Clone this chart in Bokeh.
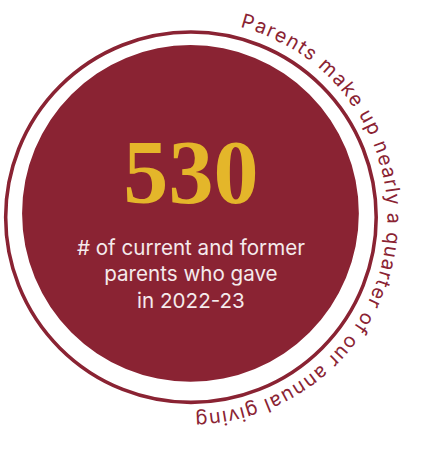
import math
from bokeh.plotting import figure
from bokeh.models import Range1d, ColumnDataSource
from bokeh.core.properties import value
from bokeh.embed import file_html
from bokeh.resources import INLINE

# ---- content ----
big_number = "530"
caption_lines = ["# of current and former", "parents who gave", "in 2022-23"]
arc_text = "Parents make up nearly a quarter of our annual giving"

MAROON = "#8A2333"
GOLD = "#E4B62A"
CAPTION = "#F5EAEC"

# ---- canvas: data units = reference pixels, uniformly scaled to fit ----
W, H = 409, 436
s = W / 436.0
x0, y0 = 0.0, -3.0
p = figure(width=W, height=H, frame_width=W, frame_height=H,
           x_range=Range1d(x0, x0 + W / s),
           y_range=Range1d(y0 + H / s, y0),
           x_axis_type=None, y_axis_type=None, title=None,
           output_backend="svg", toolbar_location=None, min_border=0)
p.grid.visible = False
p.outline_line_color = None
p.background_fill_color = "white"
p.border_fill_color = "white"

# filled disc
p.circle(x=[202.5], y=[224.0], radius=179.5, fill_color=MAROON, line_color=None)
# outer ring
ring_cx, ring_cy, ring_r = 203.0, 228.0, 197.5
p.circle(x=[ring_cx], y=[ring_cy], radius=ring_r, fill_color=None,
         line_color=MAROON, line_width=3.8 * s)

# big number
p.text(x=[203], y=[180.5], text=[big_number], text_font=value("Liberation Serif"),
       text_font_style="bold", text_font_size=f"{96 * s:.1f}px",
       text_align="center", text_baseline="alphabetic", text_color=GOLD)

# caption
p.text(x=[203, 203, 203], y=[260, 288.5, 317], text=caption_lines,
       text_font=value("Inter"), text_font_size=f"{22 * s:.1f}px",
       text_align="center", text_baseline="alphabetic", text_color=CAPTION)

# curved text around the ring
adv = {'P': 0.63, 'a': 0.55, 'r': 0.37, 'e': 0.56, 'n': 0.57, 't': 0.35,
       's': 0.50, ' ': 0.28, 'm': 0.86, 'k': 0.53, 'u': 0.57, 'p': 0.58,
       'l': 0.25, 'y': 0.52, 'q': 0.58, 'o': 0.57, 'f': 0.34, 'i': 0.25,
       'g': 0.58, 'v': 0.52}
centers = []
acc = 0.0
for ch in arc_text:
    w = adv.get(ch, 0.55)
    centers.append(acc + w / 2)
    acc += w
th0, th1 = math.radians(16.3), math.radians(177.0)
R = 217.0
xs, ys, angs, chars = [], [], [], []
for ch, c in zip(arc_text, centers):
    if ch == " ":
        continue
    t = th0 + (th1 - th0) * (c - centers[0]) / (centers[-1] - centers[0])
    xs.append(ring_cx + R * math.sin(t))
    ys.append(ring_cy - R * math.cos(t))
    angs.append(-t)
    chars.append(ch)
src = ColumnDataSource(dict(x=xs, y=ys, angle=angs, text=chars))
p.text(x="x", y="y", angle="angle", text="text", source=src,
       text_font=value("Inter"), text_font_size=f"{21 * s:.1f}px",
       text_align="center", text_baseline="alphabetic", text_color=MAROON)

open("out.html", "w").write(file_html(p, INLINE))
